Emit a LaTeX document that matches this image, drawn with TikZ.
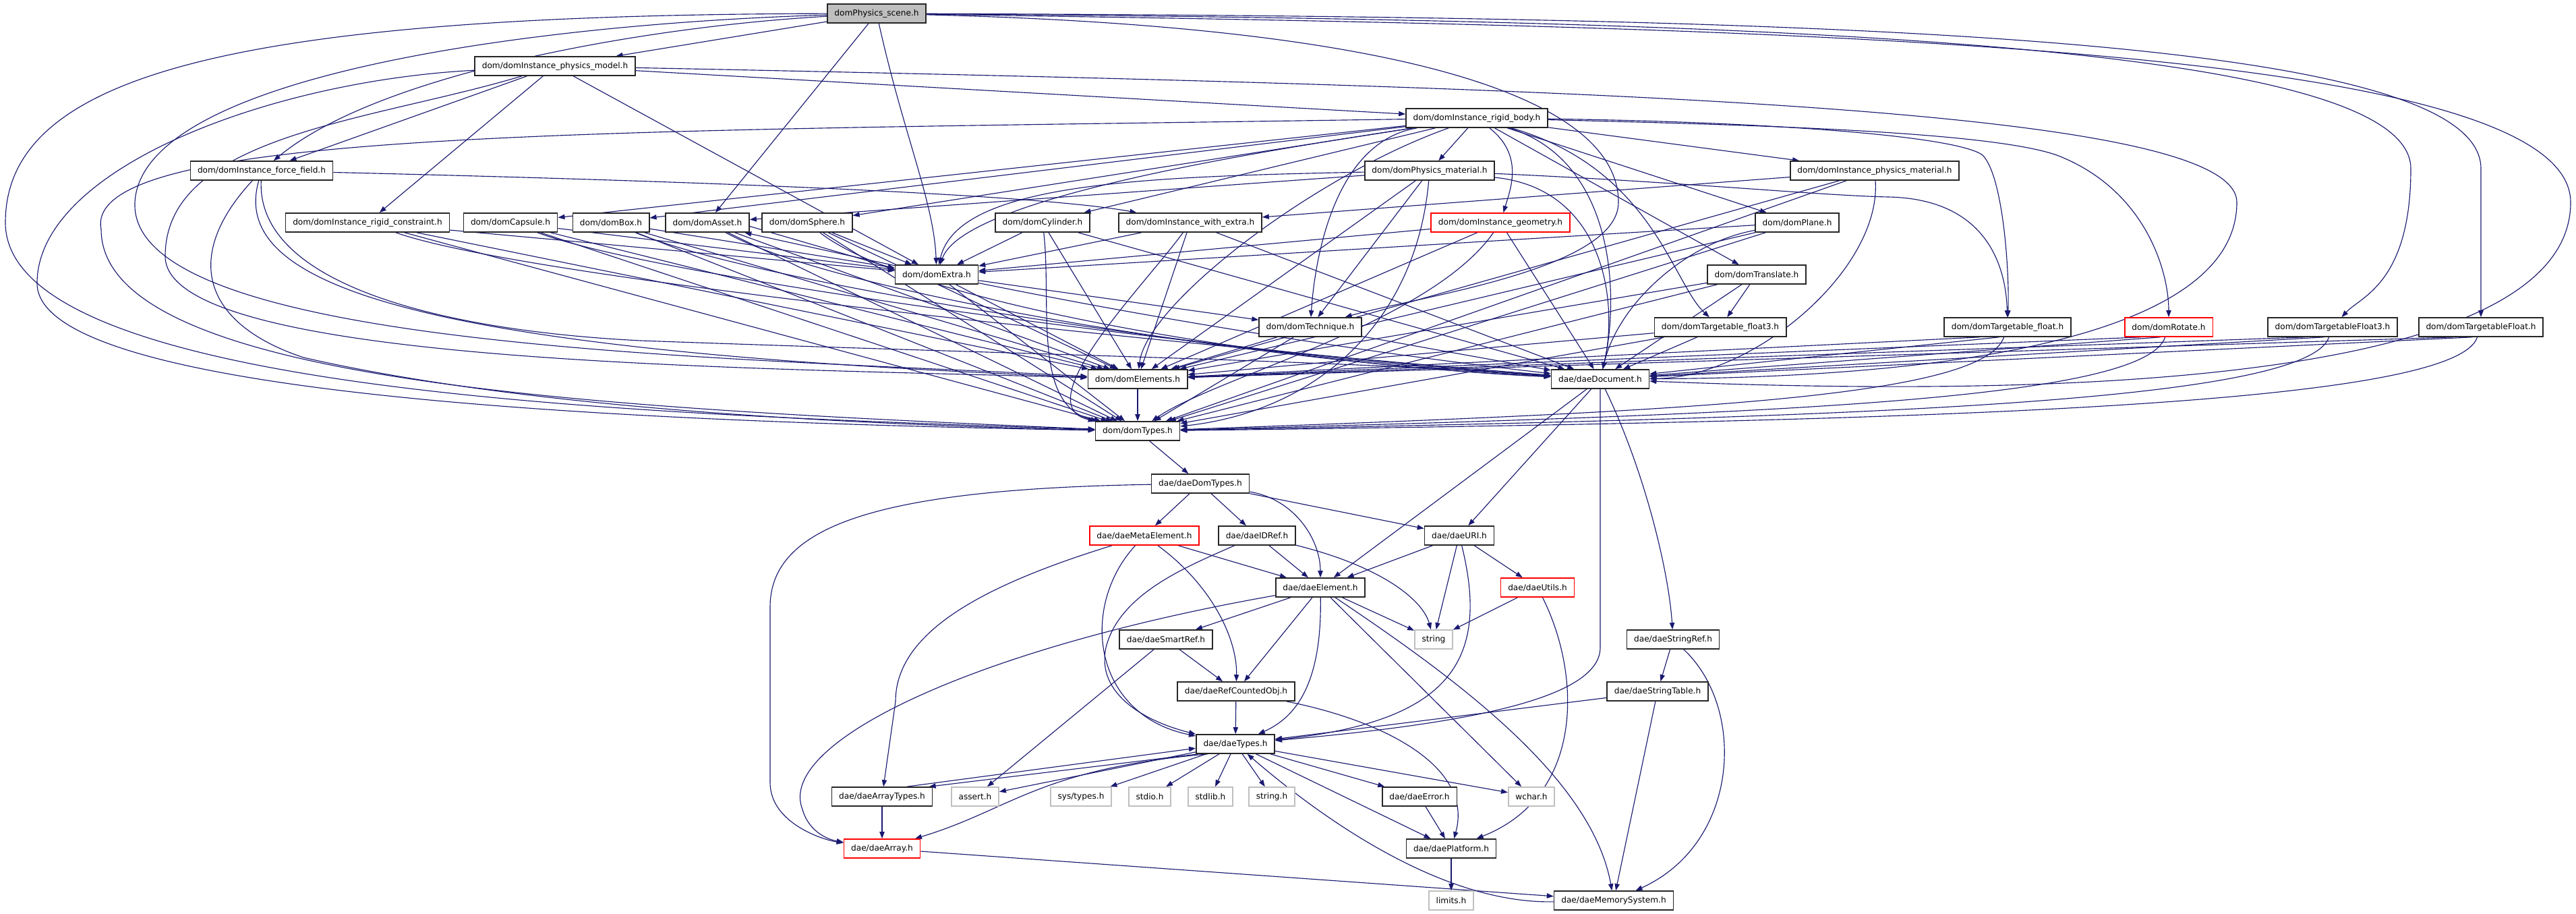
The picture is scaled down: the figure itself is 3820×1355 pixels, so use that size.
\documentclass[tikz,border=0pt]{standalone}
\usepackage{fontspec}
\setmainfont{DejaVu Sans}
\usetikzlibrary{arrows.meta}
\definecolor{edgec}{HTML}{191970}
\definecolor{rootfill}{HTML}{BFBFBF}
\definecolor{sysgray}{HTML}{BFBFBF}
\pgfdeclarelayer{edgelayer}
\pgfsetlayers{edgelayer,main}
\begin{document}
\begin{tikzpicture}[x=0.75pt,y=-0.75pt,
  nd/.style={draw=black!85, line width=1.2pt, fill=white, rectangle, minimum height=21pt, inner xsep=8pt, inner ysep=0pt, font=\fontsize{9.1}{11}\selectfont},
  rnd/.style={nd, draw=red},
  snd/.style={nd, draw=sysgray},
  rootnd/.style={nd, fill=rootfill},
  edg/.style={draw=edgec, line width=0.85pt, -{Triangle[length=7.5pt,width=5.5pt]}},
]
\useasboundingbox (0,0) rectangle (3820,1355);
% ---------------- nodes
\node[rootnd] (scene) at (1300,20) {domPhysics\_scene.h};
\node[nd] (pmodel) at (823,98) {dom/domInstance\_physics\_model.h};
\node[nd] (rbody) at (2190,175) {dom/domInstance\_rigid\_body.h};
\node[nd] (ffield) at (388,253) {dom/domInstance\_force\_field.h};
\node[nd] (pmat) at (2120,253) {dom/domPhysics\_material.h};
\node[nd] (ipmat) at (2780,253) {dom/domInstance\_physics\_material.h};
\node[nd] (rconstr) at (545,330) {dom/domInstance\_rigid\_constraint.h};
\node[nd] (capsule) at (757,330) {dom/domCapsule.h};
\node[nd] (box) at (906,330) {dom/domBox.h};
\node[nd] (asset) at (1049,330) {dom/domAsset.h};
\node[nd] (sphere) at (1197,330) {dom/domSphere.h};
\node[nd] (cylinder) at (1546,330) {dom/domCylinder.h};
\node[nd] (wextra) at (1765,330) {dom/domInstance\_with\_extra.h};
\node[rnd] (igeom) at (2225,330) {dom/domInstance\_geometry.h};
\node[nd] (plane) at (2665,330) {dom/domPlane.h};
\node[nd] (extra) at (1389,407) {dom/domExtra.h};
\node[nd] (translate) at (2605,407) {dom/domTranslate.h};
\node[nd] (technique) at (1943,485) {dom/domTechnique.h};
\node[nd] (tflt3) at (2551,485) {dom/domTargetable\_float3.h};
\node[nd] (tflt) at (2977,485) {dom/domTargetable\_float.h};
\node[rnd] (rotate) at (3216,485) {dom/domRotate.h};
\node[nd] (TFthree) at (3459,485) {dom/domTargetableFloat3.h};
\node[nd] (TFone) at (3679,485) {dom/domTargetableFloat.h};
\node[nd] (elements) at (1687,562) {dom/domElements.h};
\node[nd] (document) at (2373,562) {dae/daeDocument.h};
\node[nd] (domtypes) at (1687,639) {dom/domTypes.h};
\node[nd] (daedomtypes) at (1780,717) {dae/daeDomTypes.h};
\node[rnd] (meta) at (1697,794) {dae/daeMetaElement.h};
\node[nd] (idref) at (1864,794) {dae/daeIDRef.h};
\node[nd] (uri) at (2164,794) {dae/daeURI.h};
\node[nd] (element) at (1958,871) {dae/daeElement.h};
\node[rnd] (utils) at (2280,871) {dae/daeUtils.h};
\node[nd] (smartref) at (1729,948) {dae/daeSmartRef.h};
\node[snd] (string) at (2126,948) {string};
\node[nd] (stringref) at (2481,948) {dae/daeStringRef.h};
\node[nd] (refcounted) at (1833,1025) {dae/daeRefCountedObj.h};
\node[nd] (stringtable) at (2458,1025) {dae/daeStringTable.h};
\node[nd] (daetypes) at (1832,1103) {dae/daeTypes.h};
\node[nd] (arraytypes) at (1308,1181) {dae/daeArrayTypes.h};
\node[snd] (assert) at (1446,1181) {assert.h};
\node[snd] (systypes) at (1603,1181) {sys/types.h};
\node[snd] (stdio) at (1705,1181) {stdio.h};
\node[snd] (stdlib) at (1795,1181) {stdlib.h};
\node[snd] (stringh) at (1886,1181) {string.h};
\node[nd] (error) at (2105,1181) {dae/daeError.h};
\node[snd] (wchar) at (2271,1181) {wchar.h};
\node[rnd] (array) at (1308,1258) {dae/daeArray.h};
\node[nd] (platform) at (2152,1258) {dae/daePlatform.h};
\node[snd] (limits) at (2152,1335) {limits.h};
\node[nd] (memsys) at (2393,1335) {dae/daeMemorySystem.h};
% ---------------- edges
\begin{pgfonlayer}{edgelayer}
% scene
\draw[edg] (scene) -- (pmodel);
\draw[edg] (scene) .. controls (950,40) and (560,110) .. (ffield);
\draw[edg] (scene) .. controls (350,22) and (8,110) .. (8,330) .. controls (8,590) and (1000,615) .. (domtypes);
\draw[edg] (scene) .. controls (800,35) and (210,110) .. (200,300) .. controls (190,520) and (1100,530) .. (elements);
\draw[edg] (scene) -- (asset);
\draw[edg] (scene) .. controls (1340,200) and (1385,300) .. (extra);
\draw[edg] (scene) .. controls (2100,40) and (2400,150) .. (2400,300) .. controls (2400,400) and (2100,440) .. (technique);
\draw[edg] (scene) .. controls (2600,40) and (3812,60) .. (3812,300) .. controls (3812,520) and (3300,600) .. (document);
\draw[edg] (scene) .. controls (2600,30) and (3575,60) .. (3575,250) .. controls (3575,420) and (3500,440) .. (TFthree);
\draw[edg] (scene) .. controls (2700,25) and (3679,50) .. (3679,250) -- (TFone);
% pmodel
\draw[edg] (pmodel) -- (ffield);
\draw[edg] (pmodel) -- (rconstr);
\draw[edg] (pmodel) -- (rbody);
\draw[edg] (pmodel) -- (extra);
\draw[edg] (pmodel) .. controls (400,120) and (55,250) .. (55,420) .. controls (55,585) and (900,625) .. (domtypes);
\draw[edg] (pmodel) .. controls (550,180) and (245,200) .. (245,380) .. controls (245,540) and (1100,545) .. (elements);
\draw[edg] (pmodel) .. controls (2400,130) and (3317,160) .. (3317,300) .. controls (3317,520) and (2800,560) .. (document);
% ffield
\draw[edg] (ffield) .. controls (1100,270) and (1550,290) .. (wextra);
\draw[edg] (ffield) .. controls (270,380) and (300,480) .. (450,530) .. controls (800,610) and (1300,630) .. (domtypes);
\draw[edg] (ffield) .. controls (340,420) and (600,520) .. (elements);
\draw[edg] (ffield) .. controls (380,420) and (650,490) .. (950,505) .. controls (1500,525) and (2000,535) .. (document);
% rconstr
\draw[edg] (rconstr) -- (extra);
\draw[edg] (rconstr) -- (elements);
\draw[edg] (rconstr) -- (domtypes);
\draw[edg] (rconstr) .. controls (800,420) and (1900,525) .. (document);
% capsule
\draw[edg] (capsule) -- (extra);
\draw[edg] (capsule) -- (elements);
\draw[edg] (capsule) -- (domtypes);
\draw[edg] (capsule) .. controls (1000,420) and (1900,530) .. (document);
% box
\draw[edg] (box) -- (extra);
\draw[edg] (box) -- (elements);
\draw[edg] (box) -- (domtypes);
\draw[edg] (box) .. controls (1150,430) and (1900,535) .. (document);
% asset
\draw[edg] (asset.355) -- (extra.172);
\draw[edg] (asset) -- (elements);
\draw[edg] (asset) -- (domtypes);
\draw[edg] (asset) .. controls (1250,440) and (1900,540) .. (document);
% sphere
\draw[edg] (sphere) -- (extra);
\draw[edg] (sphere) -- (elements);
\draw[edg] (sphere) -- (domtypes);
\draw[edg] (sphere) .. controls (1350,450) and (1900,540) .. (document);
% cylinder
\draw[edg] (cylinder) -- (extra);
\draw[edg] (cylinder) -- (elements);
\draw[edg] (cylinder) .. controls (1560,450) and (1530,600) .. (domtypes);
\draw[edg] (cylinder) -- (document);
% wextra
\draw[edg] (wextra) -- (extra);
\draw[edg] (wextra) -- (elements);
\draw[edg] (wextra) .. controls (1700,420) and (1520,600) .. (domtypes);
\draw[edg] (wextra) -- (document);
% igeom
\draw[edg] (igeom) -- (extra);
\draw[edg] (igeom) -- (elements);
\draw[edg] (igeom) .. controls (2120,480) and (1800,560) .. (domtypes);
\draw[edg] (igeom) -- (document);
% plane
\draw[edg] (plane) -- (extra);
\draw[edg] (plane) -- (elements);
\draw[edg] (plane) -- (domtypes);
\draw[edg] (plane) .. controls (2500,360) and (2400,450) .. (document);
% translate
\draw[edg] (translate) -- (tflt3);
\draw[edg] (translate) -- (elements);
\draw[edg] (translate) -- (domtypes);
\draw[edg] (translate) -- (document);
% pmat
\draw[edg] (pmat) -- (asset);
\draw[edg] (pmat) .. controls (1700,262) and (1420,270) .. (extra);
\draw[edg] (pmat) -- (technique);
\draw[edg] (pmat) .. controls (2500,270) and (2700,290) .. (2800,292) .. controls (2950,295) and (2975,400) .. (tflt);
\draw[edg] (pmat) -- (elements);
\draw[edg] (pmat) .. controls (2100,480) and (1950,610) .. (domtypes);
\draw[edg] (pmat) .. controls (2380,280) and (2400,450) .. (document);
% ipmat
\draw[edg] (ipmat) -- (wextra);
\draw[edg] (ipmat) -- (elements);
\draw[edg] (ipmat) -- (domtypes);
\draw[edg] (ipmat) .. controls (2790,400) and (2600,560) .. (document);
% rbody
\draw[edg] (rbody) -- (pmat);
\draw[edg] (rbody) -- (ipmat);
\draw[edg] (rbody) .. controls (2260,230) and (2240,280) .. (igeom);
\draw[edg] (rbody) -- (plane);
\draw[edg] (rbody) -- (translate);
\draw[edg] (rbody) .. controls (2450,250) and (2480,420) .. (tflt3);
\draw[edg] (rbody) .. controls (2600,180) and (2900,200) .. (2940,230) .. controls (2970,260) and (2980,400) .. (tflt);
\draw[edg] (rbody) .. controls (2600,185) and (2950,195) .. (3050,230) .. controls (3180,280) and (3216,400) .. (rotate);
\draw[edg] (rbody) -- (capsule);
\draw[edg] (rbody) -- (box);
\draw[edg] (rbody) -- (sphere);
\draw[edg] (rbody) -- (cylinder);
\draw[edg] (rbody) .. controls (1900,220) and (1430,290) .. (extra);
\draw[edg] (rbody) .. controls (1980,210) and (1950,380) .. (technique);
\draw[edg] (rbody) .. controls (1950,260) and (1700,450) .. (elements);
\draw[edg] (rbody) .. controls (900,195) and (120,190) .. (150,340) .. controls (150,570) and (900,605) .. (domtypes);
\draw[edg] (rbody) .. controls (2400,240) and (2400,450) .. (document);
% extra
\draw[edg] (extra.168) -- (asset.345);
\draw[edg] (extra) -- (technique);
\draw[edg] (extra) -- (elements);
\draw[edg] (extra) -- (domtypes);
\draw[edg] (extra) .. controls (1700,470) and (2000,520) .. (document);
% technique
\draw[edg] (technique) -- (elements);
\draw[edg] (technique) -- (domtypes);
\draw[edg] (technique) -- (document);
% targetables
\draw[edg] (tflt3) -- (elements);
\draw[edg] (tflt3) -- (domtypes);
\draw[edg] (tflt3) -- (document);
\draw[edg] (tflt.200) -- (elements);
\draw[edg] (tflt.250) .. controls (2940,590) and (2500,610) .. (domtypes);
\draw[edg] (tflt.230) -- (document);
\draw[edg] (rotate.200) -- (elements);
\draw[edg] (rotate.250) .. controls (3180,595) and (2600,615) .. (domtypes);
\draw[edg] (rotate.230) -- (document);
\draw[edg] (TFthree.200) -- (elements);
\draw[edg] (TFthree.250) .. controls (3420,600) and (2700,620) .. (domtypes);
\draw[edg] (TFthree.230) -- (document);
\draw[edg] (TFone.200) -- (elements);
\draw[edg] (TFone.250) .. controls (3640,605) and (2800,625) .. (domtypes);
\draw[edg] (TFone.230) -- (document);
% core
\draw[edg] (elements) -- (domtypes);
\draw[edg] (domtypes) -- (daedomtypes);
% document
\draw[edg] (document) -- (element);
\draw[edg] (document) -- (uri);
\draw[edg] (document.south) -- (2373,960) .. controls (2373,1040) and (2150,1075) .. (daetypes);
\draw[edg] (document) .. controls (2440,700) and (2475,850) .. (stringref);
% daedomtypes
\draw[edg] (daedomtypes) -- (meta);
\draw[edg] (daedomtypes) -- (idref);
\draw[edg] (daedomtypes) -- (uri);
\draw[edg] (daedomtypes) .. controls (1920,740) and (1958,800) .. (element);
\draw[edg] (daedomtypes) .. controls (1300,725) and (1142,780) .. (1142,900) -- (1142,1160) .. controls (1142,1220) and (1220,1245) .. (array);
% meta
\draw[edg] (meta) -- (element);
\draw[edg] (meta) .. controls (1450,870) and (1328,940) .. (1328,1040) -- (arraytypes);
\draw[edg] (meta) .. controls (1600,900) and (1620,1060) .. (daetypes);
\draw[edg] (meta) .. controls (1800,870) and (1835,950) .. (refcounted);
% idref
\draw[edg] (idref) -- (element);
\draw[edg] (idref) .. controls (2050,840) and (2110,890) .. (string);
\draw[edg] (idref) .. controls (1760,840) and (1660,880) .. (1640,960) .. controls (1625,1030) and (1700,1070) .. (daetypes);
% uri
\draw[edg] (uri) -- (element);
\draw[edg] (uri) -- (string);
\draw[edg] (uri) -- (utils);
\draw[edg] (uri) .. controls (2210,980) and (2150,1070) .. (daetypes);
% element
\draw[edg] (element) -- (smartref);
\draw[edg] (element) -- (refcounted);
\draw[edg] (element) .. controls (1960,1000) and (1930,1060) .. (daetypes);
\draw[edg] (element) -- (string);
\draw[edg] (element) -- (wchar);
\draw[edg] (element) .. controls (2150,1000) and (2360,1150) .. (memsys);
\draw[edg] (element) .. controls (1450,960) and (1150,1100) .. (1190,1200) .. controls (1200,1235) and (1230,1245) .. (array);
% utils
\draw[edg] (utils) -- (string);
\draw[edg] (utils) .. controls (2345,1000) and (2350,1180) .. (platform);
% smartref / refcounted
\draw[edg] (smartref) -- (refcounted);
\draw[edg] (smartref) -- (assert);
\draw[edg] (refcounted) -- (daetypes);
\draw[edg] (refcounted) .. controls (2060,1070) and (2185,1140) .. (platform);
% string ref/table
\draw[edg] (stringref) -- (stringtable);
\draw[edg] (stringref) .. controls (2590,1050) and (2580,1250) .. (memsys);
\draw[edg] (stringtable) -- (daetypes);
\draw[edg] (stringtable) -- (memsys);
% daetypes
\draw[edg] (daetypes.195) -- (arraytypes.12);
\draw[edg] (arraytypes.22) -- (daetypes.186);
\draw[edg] (daetypes) -- (assert);
\draw[edg] (daetypes) -- (systypes);
\draw[edg] (daetypes) -- (stdio);
\draw[edg] (daetypes) -- (stdlib);
\draw[edg] (daetypes) -- (stringh);
\draw[edg] (daetypes) -- (error);
\draw[edg] (daetypes) -- (wchar);
\draw[edg] (daetypes) -- (platform);
\draw[edg] (daetypes.200) .. controls (1540,1140) and (1500,1200) .. (array);
\draw[edg] (memsys) .. controls (2150,1340) and (1980,1230) .. (daetypes.320);
% rest
\draw[edg] (arraytypes) -- (array);
\draw[edg] (array) -- (memsys);
\draw[edg] (error) -- (platform);
\draw[edg] (platform) -- (limits);
\end{pgfonlayer}
\end{tikzpicture}
\end{document}
